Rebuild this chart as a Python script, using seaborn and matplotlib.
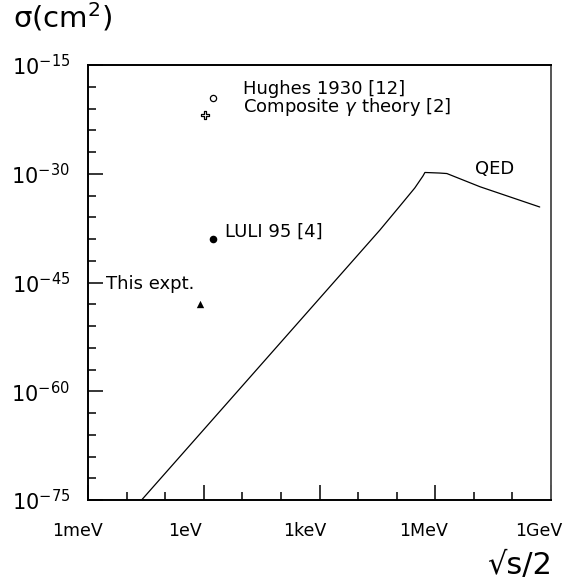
import numpy as np
import pandas as pd
import matplotlib
matplotlib.use("Agg")
import matplotlib.pyplot as plt
import matplotlib.transforms as mtransforms
from matplotlib.ticker import FixedLocator, NullFormatter
import seaborn as sns

# QED photon-photon cross section curve (energy in eV, sigma in cm^2)
qed_energy = [2.45e-2, 3.67e4, 1.21e5, 2.95e5, 4.8e5, 5.4e5, 1.3e6, 2.0e6, 1.45e7, 5.1e8]
qed_sigma = [1e-75, 1.7e-38, 3.5e-35, 1.1e-32, 4.9e-31, 1.5e-30, 1.25e-30, 1.07e-30, 1.6e-32, 2.6e-35]

# experimental / theory points
hughes_e, hughes_s = [1.74], [3.2e-20]
composite_e, composite_s = [1.07], [1.26e-22]
luli_e, luli_s = [1.74], [1.0e-39]
this_e, this_s = [0.8], [1.07e-48]

x_ticks = [1e-3, 1e0, 1e3, 1e6, 1e9]
x_labels = ["1meV", "1eV", "1keV", "1MeV", "1GeV"]
y_ticks = [1e-75, 1e-60, 1e-45, 1e-30, 1e-15]
y_labels = [r"$10^{-75}$", r"$10^{-60}$", r"$10^{-45}$", r"$10^{-30}$", r"$10^{-15}$"]

sns.set_theme(style="white")
plt.rcParams["font.family"] = ["DejaVu Sans"]
plt.rcParams["text.color"] = "black"
plt.rcParams["xtick.color"] = "black"
plt.rcParams["ytick.color"] = "black"

fig = plt.figure(figsize=(5.72, 5.81), dpi=100)
ax = fig.add_axes([88 / 572, 1 - 500 / 581, 463 / 572, 435 / 581])
ax.set_xscale("log")
ax.set_yscale("log")

df = pd.DataFrame({"energy": qed_energy, "sigma": qed_sigma})
sns.lineplot(data=df, x="energy", y="sigma", sort=False, color="black", lw=0.9, ax=ax)

sns.scatterplot(x=hughes_e, y=hughes_s, marker="o", s=20, color="black",
                facecolor="white", edgecolor="black", linewidth=0.9, ax=ax)
sns.scatterplot(x=composite_e, y=composite_s, marker="P", s=38, color="black",
                facecolor="white", edgecolor="black", linewidth=0.9, ax=ax)
sns.scatterplot(x=luli_e, y=luli_s, marker="o", s=30, color="black",
                edgecolor="black", linewidth=0, ax=ax)
sns.scatterplot(x=this_e, y=this_s, marker="^", s=28, color="black",
                edgecolor="black", linewidth=0, ax=ax)

ax.set_xlim(1e-3, 1e9)
ax.set_ylim(1e-75, 1e-15)

ax.xaxis.set_major_locator(FixedLocator(x_ticks))
ax.xaxis.set_minor_locator(FixedLocator([10.0 ** k for k in range(-3, 10) if k % 3]))
ax.xaxis.set_minor_formatter(NullFormatter())
ax.set_xticklabels(x_labels)
ax.yaxis.set_major_locator(FixedLocator(y_ticks))
ax.yaxis.set_minor_locator(FixedLocator([10.0 ** -k for k in range(15, 76, 3) if k % 15]))
ax.yaxis.set_minor_formatter(NullFormatter())
ax.set_yticklabels(y_labels)

ax.tick_params(which="both", direction="in", bottom=True, left=True, top=False, right=False,
               color="black", width=1.1)
ax.tick_params(which="major", length=11)
ax.tick_params(which="minor", length=5.5)
ax.tick_params(axis="x", which="major", pad=15.5, labelsize=12.5)
ax.tick_params(axis="y", which="major", pad=13, labelsize=15)

# labels start a fixed distance left of their tick
shift = mtransforms.ScaledTranslation(-36 / 100, 0, fig.dpi_scale_trans)
for lab in ax.get_xticklabels():
    lab.set_horizontalalignment("left")
    lab.set_transform(lab.get_transform() + shift)

for side in ["left", "bottom", "top"]:
    ax.spines[side].set_color("black")
    ax.spines[side].set_linewidth(1.4)
ax.spines["right"].set_color("#555555")
ax.spines["right"].set_linewidth(1.4)
ax.set_xlabel("")
ax.set_ylabel("")

ax.text(10.4, 1e-19, "Hughes 1930 [12]", fontsize=13, va="baseline", ha="left")
ax.text(10.4, 3.0e-22, "Composite $\\gamma$ theory [2]", fontsize=13, va="baseline", ha="left")
ax.text(3.55, 1.9e-39, "LULI 95 [4]", fontsize=13, va="baseline", ha="left")
ax.text(3.0e-3, 1.26e-46, "This expt.", fontsize=13, va="baseline", ha="left")
ax.text(1.07e7, 9.3e-31, "QED", fontsize=13, va="baseline", ha="left")

fig.text(13 / 572, 1 - 17 / 581, r"σ(cm$^2$)", fontsize=21, va="center", ha="left")
fig.text(552 / 572, 7 / 581, "√s/2", fontsize=22, va="baseline", ha="right")

fig.savefig("out.png", dpi=100)
